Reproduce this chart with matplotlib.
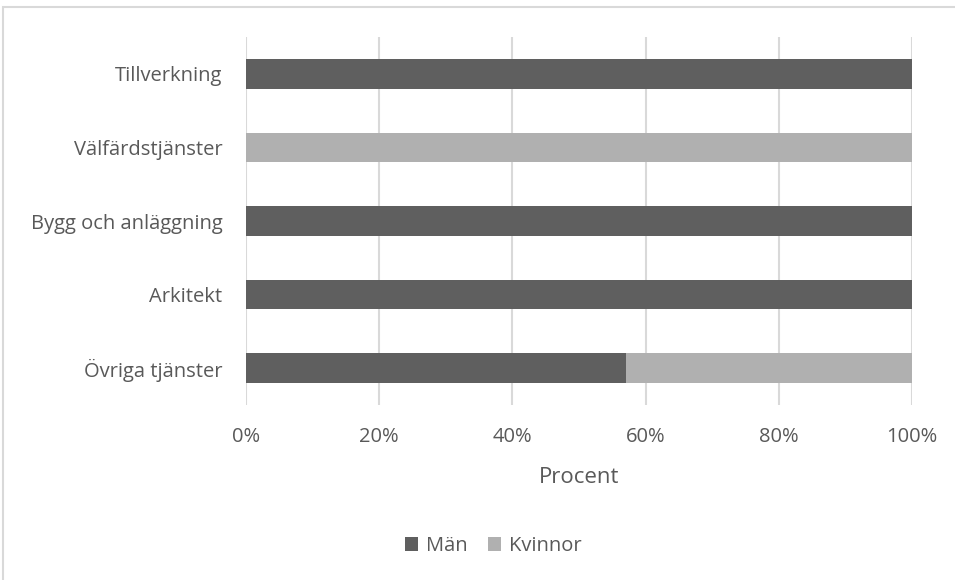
import matplotlib.pyplot as plt
from matplotlib.patches import Rectangle

categories = ['Tillverkning', 'Välfärdstjänster', 'Bygg och anläggning', 'Arkitekt', 'Övriga tjänster']
man = [100, 0, 100, 100, 57]
kvinnor = [0, 100, 0, 0, 43]
ticks = [0, 20, 40, 60, 80, 100]
tick_labels = ['0%', '20%', '40%', '60%', '80%', '100%']

plt.rcParams['font.family'] = ['Open Sans', 'DejaVu Sans']
text_color = '#595959'

fig = plt.figure(figsize=(9.55, 5.8), dpi=100)
# ram runt diagrammet
fig.patches.append(Rectangle((3 / 955, -0.05), 1.1, 1 - 7 / 580 + 0.05, transform=fig.transFigure,
                             fill=False, edgecolor='#d9d9d9', linewidth=1.5))

ax = fig.add_axes([246 / 955, 1 - 405 / 580, 666 / 955, 368 / 580])

y = list(range(len(categories)))
ax.barh(y, man, height=0.4, color='#5f5f5f', label='Män', zorder=3)
ax.barh(y, kvinnor, left=man, height=0.4, color='#b0b0b0', label='Kvinnor', zorder=3)

ax.set_ylim(len(categories) - 0.5, -0.5)
ax.set_xlim(0, 100)
ax.set_yticks(y)
ax.set_yticklabels(categories, fontsize=14.5, color=text_color)
ax.set_xticks(ticks)
ax.set_xticklabels(tick_labels, fontsize=14.5, color=text_color)
ax.tick_params(axis='both', length=0)
ax.tick_params(axis='x', pad=16)
ax.tick_params(axis='y', pad=17)
ax.grid(axis='x', color='#d9d9d9', linewidth=1.5, zorder=0)
for s in ax.spines.values():
    s.set_visible(False)

ax.set_xlabel('Procent', fontsize=16, color=text_color, labelpad=14)

leg = fig.legend(loc='center', bbox_to_anchor=(493 / 955, 1 - 546 / 580), ncol=2, frameon=False,
                 fontsize=14.5, handlelength=0.65, handleheight=0.65, handletextpad=0.4, columnspacing=1.0)
for t in leg.get_texts():
    t.set_color(text_color)

plt.savefig('out.png', dpi=100)
